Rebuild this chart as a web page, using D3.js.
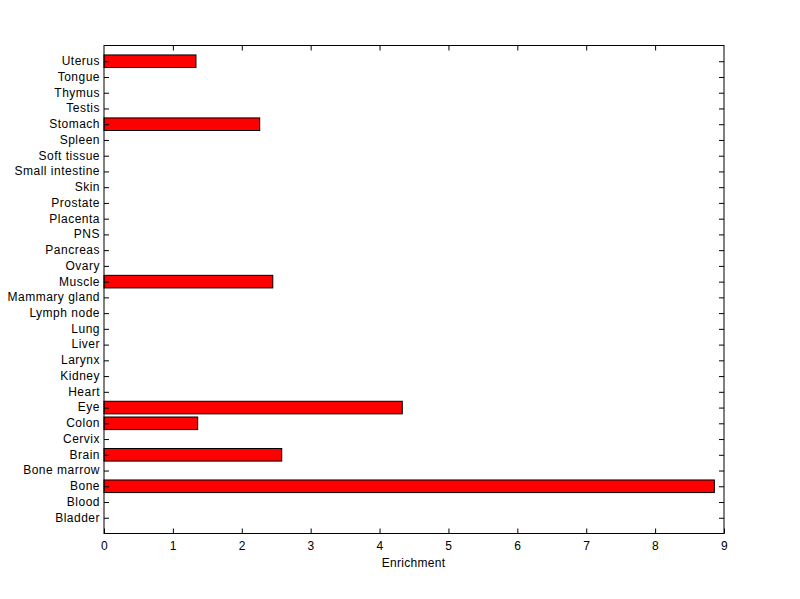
<!DOCTYPE html>
<html><head><meta charset="utf-8">
<script src="https://cdn.jsdelivr.net/npm/d3@7"></script>
<style>body{margin:0;background:#fff}svg{display:block}text{font-family:"Liberation Sans",Arial,sans-serif;font-size:12px;fill:#000}</style>
</head><body><svg id="c" width="800" height="599"></svg>
<script>
const categories = ["Bladder","Blood","Bone","Bone marrow","Brain","Cervix","Colon","Eye","Heart","Kidney","Larynx","Liver","Lung","Lymph node","Mammary gland","Muscle","Ovary","Pancreas","PNS","Placenta","Prostate","Skin","Small intestine","Soft tissue","Spleen","Stomach","Testis","Thymus","Tongue","Uterus"];
const values = [0,0,8.86,0,2.58,0,1.36,4.33,0,0,0,0,0,0,0,2.45,0,0,0,0,0,0,0,0,0,2.26,0,0,0,1.335];
const xTicks = [0,1,2,3,4,5,6,7,8,9];
const xLabel = "Enrichment";

const svg = d3.select("#c");
const L=104, R=724, T=45.5, B=533.5;
const x = d3.scaleLinear().domain([0,9]).range([L,R]);
const y = d3.scaleLinear().domain([0,categories.length+1]).range([B,T]);
const bh = Math.abs(y(0.8)-y(0));
const tl = 5;
const FF = "Liberation Sans, Arial, sans-serif";

svg.append("g").selectAll("rect").data(values.map((v,i)=>({v,i})).filter(d=>d.v>0)).join("rect")
  .attr("x",x(0)).attr("y",d=>y(d.i+1)-bh/2).attr("width",d=>x(d.v)-x(0)).attr("height",bh)
  .attr("fill","#ff0000").attr("stroke","#000").attr("stroke-width",1);

svg.append("rect").attr("x",L).attr("y",T).attr("width",R-L).attr("height",B-T)
  .attr("fill","none").attr("stroke","#000").attr("stroke-width",1);

const xa = svg.append("g").attr("transform",`translate(0,${B})`)
  .call(d3.axisBottom(x).tickValues(xTicks).tickFormat(d3.format("d")).tickSizeInner(-tl).tickSizeOuter(0).tickPadding(8));
xa.select(".domain").remove();
xa.selectAll("text").attr("font-size",12).attr("font-family",FF).attr("letter-spacing","0.5px");
const xt = svg.append("g").attr("transform",`translate(0,${T})`)
  .call(d3.axisTop(x).tickValues(xTicks.slice(1,-1)).tickFormat("").tickSizeInner(-tl).tickSizeOuter(0));
xt.select(".domain").remove();

const ya = svg.append("g").attr("transform",`translate(${L},0)`)
  .call(d3.axisLeft(y).tickValues(d3.range(1,categories.length+1)).tickFormat(d=>categories[d-1]).tickSizeInner(-tl).tickSizeOuter(0).tickPadding(4));
ya.select(".domain").remove();
ya.selectAll("text").attr("font-size",12).attr("font-family",FF).attr("x",-4).attr("dy","0.28em").attr("letter-spacing","0.5px");
const yr = svg.append("g").attr("transform",`translate(${R},0)`)
  .call(d3.axisRight(y).tickValues(d3.range(1,categories.length+1)).tickFormat("").tickSizeInner(-tl).tickSizeOuter(0));
yr.select(".domain").remove();

svg.append("text").attr("x",(L+R)/2-0.5).attr("y",567).attr("text-anchor","middle").attr("letter-spacing","0.3px").text(xLabel);
</script></body></html>
